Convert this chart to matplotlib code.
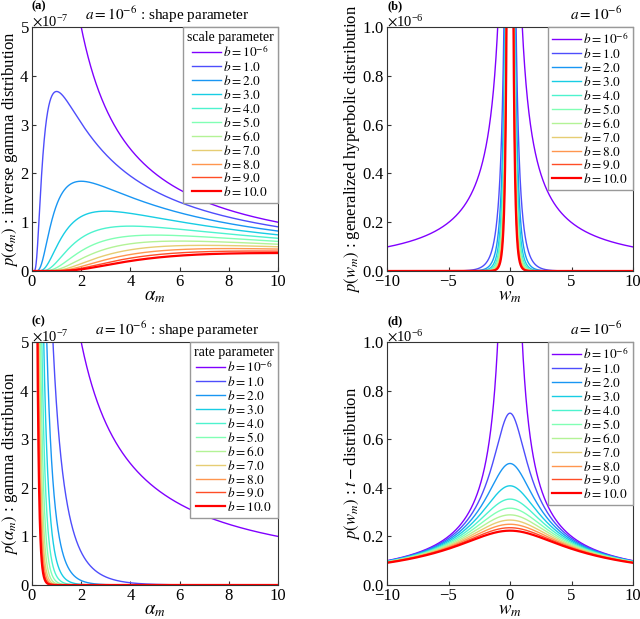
import numpy as np
import matplotlib
matplotlib.use('Agg')
import matplotlib.pyplot as plt
from matplotlib.ticker import ScalarFormatter
from math import lgamma

plt.rcParams['font.family'] = 'serif'
plt.rcParams['font.serif'] = ['Liberation Serif', 'DejaVu Serif']
plt.rcParams['mathtext.fontset'] = 'stix'

# 파라미터
a_shape = 1e-6
b_values = [1e-6, 1.0, 2.0, 3.0, 4.0, 5.0, 6.0, 7.0, 8.0, 9.0, 10.0]
b_labels = [r'$b=10^{-6}$'] + [rf'$b={b:.1f}$' for b in b_values[1:]]

alpha = np.linspace(1e-3, 10, 3000)
w = np.linspace(-10, 10, 4000)


def inv_gamma_pdf(x, a, b):
    return np.exp(a * np.log(b) - lgamma(a) - (a + 1) * np.log(x) - b / x)


def gamma_pdf(x, a, b):
    return np.exp(a * np.log(b) - lgamma(a) + (a - 1) * np.log(x) - b * x)


def gen_hyp_pdf(x, a, b):
    # gaussian scale mixture with gamma variance, K_{a-1/2} ~ K_{1/2}
    ax_ = np.abs(x)
    z = np.sqrt(2 * b) * ax_
    c = 2 * np.exp(a * np.log(b) - lgamma(a)) / np.sqrt(2 * np.pi)
    return c * (ax_ / np.sqrt(2 * b)) ** (a - 0.5) * np.sqrt(np.pi / (2 * z)) * np.exp(-z)


def t_pdf(x, a, b):
    c = np.exp(lgamma(a + 0.5) - lgamma(a)) / np.sqrt(2 * np.pi * b)
    return c * (1 + x ** 2 / (2 * b)) ** (-(a + 0.5))


colors = plt.cm.rainbow(np.linspace(0, 1, len(b_values)))

fig = plt.figure(figsize=(6.4, 6.19), dpi=100)
W, H = 640, 619
rects = {
    'a': (32, 27, 278, 271),
    'b': (387, 27, 633, 271),
    'c': (32, 342, 278, 585),
    'd': (387, 342, 633, 585),
}


def make_ax(key):
    x0, y0, x1, y1 = rects[key]
    return fig.add_axes([x0 / W, 1 - y1 / H, (x1 - x0) / W, (y1 - y0) / H])


panels = [
    ('a', alpha, inv_gamma_pdf, (0, 10), (0, 5e-7), r'$\alpha_m$',
     r'$p(\alpha_m)$ : inverse gamma distribution', 'scale parameter',
     r'$a=10^{-6}$ : shape parameter', 0.886, -0.05),
    ('b', w, gen_hyp_pdf, (-10, 10), (0, 1e-6), r'$w_m$',
     r'$p(w_m)$ : generalized hyperbolic distribution', None,
     r'$a=10^{-6}$', 0.955, -0.1),
    ('c', alpha, gamma_pdf, (0, 10), (0, 5e-7), r'$\alpha_m$',
     r'$p(\alpha_m)$ : gamma distribution', 'rate parameter',
     r'$a=10^{-6}$ : shape parameter', 0.925, -0.05),
    ('d', w, t_pdf, (-10, 10), (0, 1e-6), r'$w_m$',
     r'$p(w_m)$ : $t-$distribution', None,
     r'$a=10^{-6}$', 0.955, -0.1),
]

for key, x, pdf, xlim, ylim, xlab, ylab, leg_title, note, note_x, ylab_x in panels:
    ax = make_ax(key)
    with np.errstate(all='ignore'):
        for i, (b, lab) in enumerate(zip(b_values, b_labels)):
            lw = 1.6 if i == len(b_values) - 1 else 1.0
            ax.plot(x, pdf(x, a_shape, b), color=colors[i], lw=lw, label=lab)
    ax.set_xlim(*xlim)
    ax.set_ylim(*ylim)
    if xlim[0] == 0:
        ax.set_xticks([0, 2, 4, 6, 8, 10])
    else:
        ax.set_xticks([-10, -5, 0, 5, 10])
    fmt = ScalarFormatter(useMathText=True)
    ax.yaxis.set_major_formatter(fmt)
    ax.yaxis.OFFSETTEXTPAD = 0
    ax.tick_params(direction='in', length=3, labelsize=12, pad=2, top=False, right=False,
                   color='#333333')
    ax.yaxis.get_offset_text().set_fontsize(10.5)
    for s in ax.spines.values():
        s.set_color('#333333')
    ax.set_xlabel(xlab, fontsize=13.5, labelpad=-1)
    ax.set_ylabel(ylab, fontsize=12)
    ax.yaxis.set_label_coords(ylab_x, 0.5)
    ax.text(note_x, 1.03, note, transform=ax.transAxes, ha='right', va='baseline', fontsize=11)
    ax.text(0.0, 1.072, f'({key})', transform=ax.transAxes, ha='left', va='baseline',
            fontsize=9, fontweight='bold')
    leg = ax.legend(loc='upper right', borderaxespad=0, fontsize=9.5, title=leg_title,
                    title_fontsize=10, labelspacing=0.0, handlelength=2.2, handletextpad=0.15,
                    borderpad=0.3, fancybox=False, framealpha=1, edgecolor='#999999')
    leg.get_frame().set_linewidth(1.0)

fig.savefig('out.png', dpi=100)
